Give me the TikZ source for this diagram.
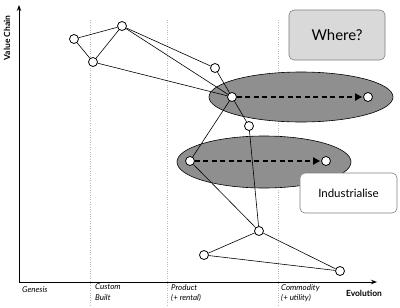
\documentclass[tikz,border=0pt]{standalone}
\usepackage{fontspec}
\setmainfont{Lato}
\setsansfont{Lato}
\usetikzlibrary{positioning, shapes.geometric, arrows.meta, calc}
\definecolor{mapgray}{HTML}{8F8F8F}
\definecolor{boxgray}{HTML}{D9D9D9}
\definecolor{edgegray}{HTML}{7F7F7F}
\definecolor{guidegray}{HTML}{B8B8B8}

\begin{document}
\begin{tikzpicture}[x=1bp, y=-1bp, font=\sffamily,
    comp/.style={circle, draw, fill=white, line width=0.8pt, inner sep=0pt, minimum size=9bp},
    link/.style={line width=0.6pt},
    move/.style={line width=2pt, dash pattern=on 5bp off 3.5bp, -{Triangle[length=7bp, width=7bp]}, shorten >=1bp},
    zone/.style={ellipse, draw, fill=mapgray, line width=0.6pt, inner sep=0pt},
    callout/.style={draw=edgegray, rounded corners=5pt, line width=0.6pt, align=center},
    axislabel/.style={font=\sffamily\bfseries\fontsize{8.5}{10}\selectfont},
    stage/.style={font=\sffamily\itshape\fontsize{8}{10.5}\selectfont, align=left, anchor=north west, inner sep=0pt}]
  \useasboundingbox (0,0) rectangle (400,308);

  % evolution stages
  \foreach \gx in {90,167,278}
    \draw[guidegray, dotted, line width=0.4pt] (\gx,20) -- (\gx,305);

  % axes
  \coordinate (origin) at (19,282);
  \coordinate (ytop) at (19,5);
  \coordinate (xend) at (377,282);
  \draw[line width=1pt, -{Stealth[length=6bp, width=4.5bp]}] (origin) -- (ytop);
  \draw[line width=1pt, -{Stealth[length=6bp, width=4.5bp]}] (origin) -- (xend);
  \node[axislabel, rotate=90] (vchain) at (7,38) {Value Chain};
  \node[axislabel] (evol) at (364,293) {Evolution};

  \node[stage] (genesis) at (22,286) {Genesis};
  \node[stage] (custom) at (95,284) {Custom\\Built};
  \node[stage] (product) at (171,284) {Product\\(+ rental)};
  \node[stage] (commodity) at (281,284) {Commodity\\(+ utility)};

  % zones
  \node[zone, minimum width=184bp, minimum height=50bp] (zoneA) at (301,97) {};
  \node[zone, minimum width=174bp, minimum height=52bp] (zoneB) at (264,162) {};

  % components
  \node[comp] (a) at (74,39) {};
  \node[comp] (b) at (122,26) {};
  \node[comp] (c) at (93,62) {};
  \node[comp] (d) at (215,68) {};
  \node[comp] (e) at (232,97) {};
  \node[comp] (f) at (249,126) {};
  \node[comp] (g) at (190,161) {};
  \node[comp] (h) at (259,231) {};
  \node[comp] (i) at (204,255) {};
  \node[comp] (j) at (340,271) {};
  \node[comp] (k) at (368,97) {};
  \node[comp] (l) at (326,161) {};

  % value chain links
  \draw[link] (a) -- (b);
  \draw[link] (a) -- (c);
  \draw[link] (b) -- (c);
  \draw[link] (b) -- (d);
  \draw[link] (b) -- (e);
  \draw[link] (c) -- (e);
  \draw[link] (d) -- (e);
  \draw[link] (e) -- (f);
  \draw[link] (e) -- (g);
  \draw[link] (f) -- (h);
  \draw[link] (g) -- (h);
  \draw[link] (h) -- (i);
  \draw[link] (h) -- (j);
  \draw[link] (i) -- (j);

  % movement
  \draw[move] (e) -- (k);
  \draw[move] (g) -- (l);

  % callouts
  \node[callout, fill=boxgray, minimum width=96bp, minimum height=50bp, font=\sffamily\fontsize{15}{17}\selectfont] (where) at (337,35) {Where?};
  \node[callout, fill=white, minimum width=97bp, minimum height=40bp, font=\sffamily\fontsize{11.5}{13}\selectfont] (indust) at (348.5,193) {Industrialise};
\end{tikzpicture}
\end{document}
